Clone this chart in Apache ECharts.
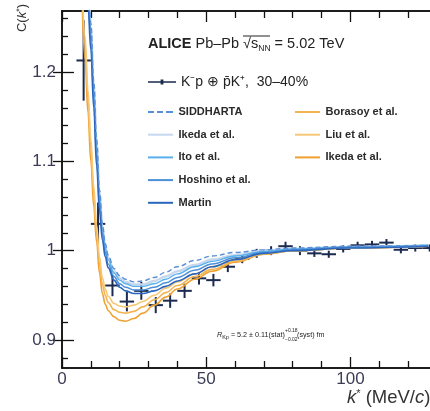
<!DOCTYPE html>
<html>
<head>
<meta charset="utf-8">
<script src="https://cdn.jsdelivr.net/npm/echarts@6/dist/echarts.min.js"></script>
<style>
html, body { margin: 0; padding: 0; background: #fff; }
#main { width: 430px; height: 411px; }
</style>
</head>
<body>
<div id="main"></div>
<script>
var chartDom = document.getElementById('main');
var myChart = echarts.init(chartDom);
var option;

// measured K-p correlation (bin centres, values, stat errors)
let kStar = [7.5, 12.5, 17.5, 22.5, 27.5, 32.5, 37.5, 42.5, 47.5, 52.5, 57.5, 62.5, 67.5,
  72.5, 77.5, 82.5, 87.5, 92.5, 97.5, 102.5, 107.5, 112.5, 117.5, 122.5, 127.5];
let cData = [1.213, 1.030, 0.961, 0.943, 0.955, 0.939, 0.944, 0.955, 0.969, 0.967, 0.982, 0.991, 0.997,
  1.000, 1.005, 1.000, 0.997, 0.996, 1.002, 1.006, 1.007, 1.009, 1.001, 1.003, 1.003];
let cErr = [0.045, 0.024, 0.012, 0.011, 0.010, 0.009, 0.008, 0.008, 0.007, 0.007, 0.006, 0.005, 0.005,
  0.005, 0.005, 0.005, 0.004, 0.004, 0.004, 0.004, 0.004, 0.004, 0.004, 0.004, 0.004];
let binHalf = 2.5;

// model curves
let kModel = [7, 8, 9, 10, 11, 12, 13, 14, 15, 16, 18, 20, 22, 25, 28, 32, 36, 40, 46, 52, 60, 70, 80, 100, 127];
let siddharta = [1.41, 1.36, 1.31, 1.255, 1.19, 1.125, 1.068, 1.03, 1.008, 0.995, 0.980, 0.972, 0.968, 0.965, 0.966, 0.970, 0.976, 0.982, 0.989, 0.994, 0.998, 1.001, 1.003, 1.005, 1.006];
let ikedaBlue = [1.405, 1.355, 1.30, 1.25, 1.185, 1.12, 1.064, 1.027, 1.005, 0.992, 0.977, 0.969, 0.965, 0.962, 0.962, 0.966, 0.971, 0.977, 0.984, 0.990, 0.995, 1.000, 1.002, 1.004, 1.006];
let ito = [1.40, 1.35, 1.295, 1.245, 1.18, 1.115, 1.06, 1.024, 1.003, 0.990, 0.975, 0.967, 0.963, 0.960, 0.960, 0.963, 0.968, 0.974, 0.982, 0.988, 0.994, 0.999, 1.002, 1.004, 1.006];
let hoshino = [1.39, 1.34, 1.285, 1.235, 1.17, 1.105, 1.053, 1.018, 0.998, 0.985, 0.971, 0.963, 0.959, 0.956, 0.956, 0.959, 0.964, 0.970, 0.978, 0.985, 0.992, 0.998, 1.001, 1.004, 1.005];
let martin = [1.38, 1.33, 1.275, 1.225, 1.16, 1.095, 1.045, 1.012, 0.993, 0.981, 0.967, 0.959, 0.955, 0.952, 0.952, 0.955, 0.960, 0.966, 0.974, 0.982, 0.990, 0.997, 1.000, 1.003, 1.005];
let borasoy = [1.29, 1.23, 1.17, 1.115, 1.063, 1.02, 0.985, 0.962, 0.950, 0.942, 0.934, 0.931, 0.930, 0.932, 0.937, 0.945, 0.953, 0.961, 0.971, 0.979, 0.988, 0.996, 1.000, 1.003, 1.005];
let liu = [1.30, 1.24, 1.18, 1.125, 1.072, 1.028, 0.993, 0.970, 0.957, 0.949, 0.941, 0.938, 0.937, 0.939, 0.943, 0.950, 0.958, 0.965, 0.974, 0.982, 0.990, 0.997, 1.000, 1.003, 1.005];
let ikedaOrange = [1.275, 1.215, 1.155, 1.10, 1.05, 1.01, 0.975, 0.952, 0.940, 0.933, 0.926, 0.922, 0.921, 0.924, 0.930, 0.939, 0.948, 0.957, 0.968, 0.977, 0.987, 0.996, 1.000, 1.003, 1.005];

let xMajor = [0, 50, 100];
let xMinor = [10, 20, 30, 40, 60, 70, 80, 90, 110, 120];
let yMajor = [0.9, 1.0, 1.1, 1.2];
let yMinor = [0.88, 0.92, 0.94, 0.96, 0.98, 1.02, 1.04, 1.06, 1.08, 1.12, 1.14, 1.16, 1.18, 1.22, 1.24, 1.26];

let font = "'Liberation Sans', Arial, sans-serif";
let dataName = 'K\u207Bp \u2295 p\u0304K\u207A,  30\u201340%';
let solidIcon = 'path://M0,0 L25,0 L25,2 L0,2 Z';
let dashIcon = 'path://M0,0 L6,0 L6,2 L0,2 Z M9,0 L15,0 L15,2 L9,2 Z M18,0 L25,0 L25,2 L18,2 Z';

function pairs(xs, ys) {
  return xs.map(function (x, i) { return [x, ys[i]]; });
}

function modelLine(name, vals, color, width, dash) {
  return {
    name: name,
    type: 'line',
    data: pairs(kModel, vals),
    symbol: 'none',
    smooth: 0.4,
    smoothMonotone: 'x',
    clip: true,
    silent: true,
    lineStyle: { color: color, width: width, type: dash || 'solid' },
    itemStyle: { color: color }
  };
}

function xAx(pos, ticks, len, labels) {
  return {
    type: 'value', position: pos, min: 0, max: 127.6,
    axisLine: { show: true, lineStyle: { color: '#111', width: 1.5 } },
    axisTick: { show: true, inside: true, length: len, customValues: ticks, lineStyle: { color: '#111', width: 1.3 } },
    axisLabel: labels ? {
      show: true, customValues: xMajor, margin: 3, fontSize: 17, color: '#3c3c58', fontFamily: font
    } : { show: false },
    splitLine: { show: false }
  };
}

function yAx(pos, ticks, len, labels) {
  return {
    type: 'value', position: pos, min: 0.8686, max: 1.2684,
    axisLine: { show: pos === 'left', lineStyle: { color: '#111', width: 1.5 } },
    axisTick: { show: true, inside: true, length: len, customValues: ticks, lineStyle: { color: '#111', width: 1.3 } },
    axisLabel: labels ? {
      show: true, customValues: yMajor, margin: 6, fontSize: 17, color: '#3c3c58', fontFamily: font,
      formatter: function (v) { return Math.abs(v - 1) < 1e-6 ? '1' : v.toFixed(1); }
    } : { show: false },
    splitLine: { show: false }
  };
}

let legendText = { fontSize: 11, lineHeight: 12, color: '#2a2a2a', fontFamily: font, fontWeight: 'bold' };

option = {
  animation: false,
  backgroundColor: '#fff',
  grid: { left: 62, top: 11, right: -2, bottom: 43 },
  xAxis: [
    xAx('bottom', xMajor, 11, true),
    xAx('bottom', xMinor, 7, false),
    xAx('top', xMajor, 11, false),
    xAx('top', xMinor, 7, false)
  ],
  yAxis: [
    yAx('left', yMajor, 12, true),
    yAx('left', yMinor, 6, false),
    yAx('right', yMajor, 9, false)
  ],
  legend: [
    {
      data: [{ name: dataName, icon: 'path://M0,3 L30,3 L30,4.4 L0,4.4 Z M13.5,1 L16.5,1 L16.5,6.4 L13.5,6.4 Z' }],
      left: 148, top: 75, padding: 0, itemWidth: 28, itemHeight: 7, itemGap: 4, selectedMode: false,
      textStyle: { fontSize: 14, lineHeight: 14, color: '#222', fontFamily: font }
    },
    {
      data: [
        { name: 'SIDDHARTA', icon: dashIcon },
        { name: 'Ikeda et al.', icon: solidIcon },
        { name: 'Ito et al.', icon: solidIcon },
        { name: 'Hoshino et al.', icon: solidIcon },
        { name: 'Martin', icon: solidIcon }
      ],
      orient: 'vertical', left: 148, top: 106, padding: 0, itemWidth: 26, itemHeight: 2, itemGap: 10.7,
      selectedMode: false, textStyle: legendText
    },
    {
      data: [
        { name: 'Borasoy et al.', icon: solidIcon },
        { name: 'Liu et al.', icon: solidIcon },
        { name: 'Ikeda et al. ', icon: solidIcon }
      ],
      orient: 'vertical', left: 295, top: 106, padding: 0, itemWidth: 26, itemHeight: 2, itemGap: 10.7,
      selectedMode: false, textStyle: legendText
    }
  ],
  series: [
    modelLine('Ikeda et al. ', ikedaOrange, '#f0a030', 1.6),
    modelLine('Borasoy et al.', borasoy, '#f2b450', 1.6),
    modelLine('Liu et al.', liu, '#f6c878', 1.6),
    modelLine('Ikeda et al.', ikedaBlue, '#c6d8ee', 2.5),
    modelLine('Ito et al.', ito, '#5ab0ea', 1.4),
    modelLine('Hoshino et al.', hoshino, '#4a8fd8', 1.4),
    modelLine('Martin', martin, '#2c66bc', 1.6),
    modelLine('SIDDHARTA', siddharta, '#5a8ed6', 1.4, [5, 3]),
    {
      name: dataName,
      type: 'custom',
      clip: true,
      itemStyle: { color: '#1b2a4e' },
      data: kStar.map(function (k, i) { return [k, cData[i], cErr[i]]; }),
      renderItem: function (params, api) {
        let k = api.value(0), c = api.value(1), e = api.value(2);
        let lo = api.coord([k, c - e]), hi = api.coord([k, c + e]);
        let le = api.coord([k - binHalf, c]), ri = api.coord([k + binHalf, c]);
        let st = { stroke: '#1b2a4e', lineWidth: 2 };
        return {
          type: 'group',
          children: [
            { type: 'line', shape: { x1: lo[0], y1: lo[1], x2: hi[0], y2: hi[1] }, style: st },
            { type: 'line', shape: { x1: le[0], y1: le[1], x2: ri[0], y2: ri[1] }, style: st }
          ]
        };
      }
    }
  ],
  graphic: [
    {
      type: 'text', x: 148, y: 44,
      style: {
        text: '{b|ALICE} Pb\u2013Pb {n|\u221A}{n|s}{sub|NN} = 5.02 TeV',
        fontSize: 14.5, fontFamily: font, fill: '#222', verticalAlign: 'middle',
        rich: {
          b: { fontWeight: 'bold', fontSize: 14.5, fontFamily: font },
          n: { fontSize: 14.5, fontFamily: font },
          sub: { fontSize: 8.5, fontFamily: font, verticalAlign: 'bottom', lineHeight: 19 }
        }
      }
    },
    { type: 'line', shape: { x1: 243, y1: 36, x2: 270, y2: 36 }, style: { stroke: '#222', lineWidth: 1 } },
    {
      type: 'text', x: 217, y: 335,
      style: {
        text: '{i|R}{sub|Kp} = 5.2 \u00B1 0.11(stat)',
        fontSize: 7.2, fontFamily: font, fill: '#222', verticalAlign: 'middle',
        rich: {
          i: { fontStyle: 'italic', fontSize: 7.2, fontFamily: font },
          sub: { fontSize: 5.5, fontFamily: font, verticalAlign: 'bottom', lineHeight: 11 }
        }
      }
    },
    { type: 'text', x: 285, y: 331, style: { text: '+0.18', fontSize: 5, fontFamily: font, fill: '#222', verticalAlign: 'middle' } },
    { type: 'text', x: 285, y: 340, style: { text: '\u22120.02', fontSize: 5, fontFamily: font, fill: '#222', verticalAlign: 'middle' } },
    { type: 'text', x: 297, y: 335, style: { text: '(syst) fm', fontSize: 7.2, fontFamily: font, fill: '#222', verticalAlign: 'middle' } },
    {
      type: 'text', x: 22, y: 18, rotation: Math.PI / 2,
      style: {
        text: 'C({i|k}{s|*})', fontSize: 13, fontFamily: font, fill: '#333', align: 'center', verticalAlign: 'middle',
        rich: {
          i: { fontStyle: 'italic', fontSize: 13, fontFamily: font },
          s: { fontSize: 9, fontFamily: font, verticalAlign: 'top', lineHeight: 14 }
        }
      }
    },
    {
      type: 'text', x: 347, y: 398,
      style: {
        text: '{i|k}{s|*} (MeV/{i|c})', fontSize: 18.5, fontFamily: font, fill: '#333', verticalAlign: 'middle',
        rich: {
          i: { fontStyle: 'italic', fontSize: 18.5, fontFamily: font },
          s: { fontSize: 11, fontFamily: font, verticalAlign: 'top', lineHeight: 20 }
        }
      }
    }
  ]
};

option && myChart.setOption(option);
</script>
</body>
</html>
